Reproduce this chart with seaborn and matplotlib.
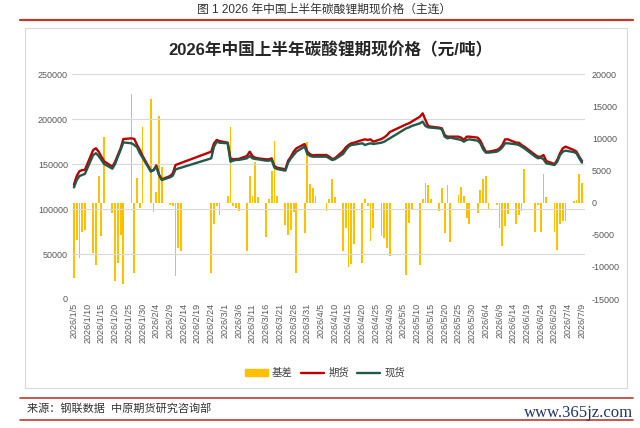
import pandas as pd
import seaborn as sns
import matplotlib.pyplot as plt
import matplotlib.dates as mdates
from matplotlib.patches import Rectangle, Patch
from matplotlib.lines import Line2D

# trading days (exchange holidays removed)
holidays = ['2026-02-16', '2026-02-17', '2026-02-18', '2026-02-19', '2026-02-20',
            '2026-02-23', '2026-04-06', '2026-05-01', '2026-05-04', '2026-05-05',
            '2026-06-19']
dates = pd.bdate_range('2026-01-05', '2026-07-09')
dates = dates[~dates.isin(pd.to_datetime(holidays))]

# 期货 (main contract), read month by month
futures_jan = [127000, 136500, 142000, 143200, 143500, 165500, 167500, 163700, 158100, 153000,
               147000, 152600, 160000, 167400, 177800, 178500, 177800, 171100, 165600, 159000]
futures_feb = [142600, 143200, 148500, 138000, 133000, 136600, 139600, 148900, 150000, 151200,
               163700, 173000, 176700, 175500]
futures_mar = [173700, 156300, 155200, 155600, 155600, 158900, 163700, 158900, 157000, 156300,
               155200, 155200, 156300, 147800, 145900, 144100, 153700, 158100, 163700, 167400,
               172200, 163700]
futures_apr = [160800, 159600, 160000, 160000, 158100, 155600, 156300, 164400, 168500, 171100,
               173000, 173700, 176700, 177400, 176700, 177400, 174800, 177800, 179600, 182000,
               185500]
futures_may = [194100, 195200, 197100, 202600, 206300, 198900, 192200, 191500, 190400, 189600,
               182200, 180400, 180400, 180400, 179300, 176700, 180400, 180400]
futures_jun = [179300, 175900, 169300, 163700, 163700, 165600, 167400, 171100, 177400, 177400,
               173700, 173700, 171100, 169300, 160000, 158100, 158100, 160000, 153300, 150000,
               154500]
futures_jul = [161900, 167400, 169300, 165600, 163700, 158100, 153300]

# 现货
spot_jan = [124000, 132000, 136600, 137800, 139000, 160000, 162000, 158900, 154500, 150000,
            144800, 150000, 158100, 165600, 174000, 173000, 171100, 168500, 161900, 157000]
spot_feb = [141500, 143200, 147000, 137800, 132200, 135200, 137000, 144000, 145000, 145900,
            156300, 169300, 174800, 173700]
spot_mar = [173000, 152600, 153700, 154500, 154500, 156300, 158900, 156300, 155600, 155200,
            153700, 153700, 154500, 145900, 144400, 142600, 151500, 156300, 160000, 163700,
            169300, 161100]
spot_apr = [158900, 158100, 158100, 158100, 156300, 154500, 155200, 161100, 165600, 169300,
            171100, 171500, 173000, 171100, 172200, 173000, 172200, 173700, 174800, 176700,
            178500]
spot_may = [189600, 190700, 192200, 195200, 197100, 192200, 190700, 190400, 189600, 188500,
            180400, 178500, 179300, 177400, 176700, 174800, 176700, 177400]
spot_jun = [175900, 173000, 166300, 162600, 162600, 163700, 165600, 168500, 173000, 173000,
            171900, 171100, 169300, 167400, 158100, 156300, 157000, 155200, 150700, 148900,
            152600]
spot_jul = [160000, 163700, 164800, 163300, 161900, 156300, 151500]

# 基差 (right axis)
basis_jan = [-11700, -5800, -8600, -4600, -4300, -7800, -9700, 4100, -5200, 10200,
             -1600, -12200, -9400, -5000, -12600, 16900, -10900, 3900, -800, 11700]
basis_feb = [16100, -1500, 1600, 13500, 5500, -300, -500, -11400, -7000, -7500,
             -10900, -3400, -500, -2000]
basis_mar = [1000, 11800, -500, -800, -1300, -7500, 4100, 1000, 6300, 800,
             -5400, 500, 4900, 9600, 1000, -3500, -5000, -4200, -1500, -10900,
             -4800, 9400]
basis_apr = [2900, 2200, 1000, -1300, 500, 3600, 800, -7500, -4000, -10000,
             -9500, -6500, -9400, 500, -500, -6000, -4000, -5200, -5500, -7000,
             -8300]
basis_may = [-11300, -3200, -1000, -9700, 500, 3100, 2700, 500, -1300, 2300,
             -4700, 2800, -6200, 1200, 2500, 1000, -2400, -3400]
basis_jun = [-1600, 2000, 3600, 4100, -1100, -300, -3900, -6800, -3600, -1800,
             -3300, -2000, -1300, 5200, -4500, -300, -4500, 4400, 800, -4500,
             -7300]
basis_jul = [-3400, -2800, -2900, 300, 400, 4500, 3000]

left_ticks = [0, 50000, 100000, 150000, 200000, 250000]
right_ticks = [-15000, -10000, -5000, 0, 5000, 10000, 15000, 20000]
tick_dates = pd.date_range('2026-01-05', '2026-07-09', freq='5D')

futures = futures_jan + futures_feb + futures_mar + futures_apr + futures_may + futures_jun + futures_jul
spot = spot_jan + spot_feb + spot_mar + spot_apr + spot_may + spot_jun + spot_jul
basis = basis_jan + basis_feb + basis_mar + basis_apr + basis_may + basis_jun + basis_jul

df = pd.DataFrame({'x': mdates.date2num(dates), 'futures': futures, 'spot': spot, 'basis': basis})

sns.set_theme(style='white')
plt.rcParams['font.family'] = ['Liberation Sans', 'Noto Sans CJK SC']
plt.rcParams['axes.unicode_minus'] = False

W, H = 640, 428
fig = plt.figure(figsize=(6.4, 4.28), dpi=100)

def fx(px):
    return px / W

def fy(py):
    return 1 - py / H

ax = fig.add_axes([fx(72), fy(299), fx(585 - 72), (299 - 74) / H])
ax2 = ax.twinx()
ax.set_zorder(ax2.get_zorder() + 1)
ax.patch.set_visible(False)

bar_col = '#FFC000'
fut_col = '#C00000'
spot_col = '#1F5A4A'

sns.barplot(data=df, x='x', y='basis', native_scale=True, orient='x', width=0.65,
            color=bar_col, saturation=1, errorbar=None, linewidth=0, ax=ax2)
sns.lineplot(data=df, x='x', y='futures', color=fut_col, lw=1.7, ax=ax, legend=False)
sns.lineplot(data=df, x='x', y='spot', color=spot_col, lw=1.7, ax=ax, legend=False)

ax.set_ylim(0, 250000)
ax.set_yticks(left_ticks)
ax.set_yticklabels([str(v) for v in left_ticks])
ax2.set_ylim(-15000, 20000)
ax2.set_yticks(right_ticks)
ax2.set_yticklabels([str(v) for v in right_ticks])

tick_x = mdates.date2num(tick_dates)
ax.set_xticks(tick_x)
ax.set_xticklabels([f'{d.year}/{d.month}/{d.day}' for d in tick_dates], rotation=90)
ax.set_xlim(mdates.date2num(pd.Timestamp('2026-01-05')) - 0.7,
            mdates.date2num(pd.Timestamp('2026-07-09')) + 1.1)

ax.grid(axis='y', color='#D9D9D9', lw=0.8)
ax.grid(axis='x', visible=False)
ax2.grid(False)
for a in (ax, ax2):
    a.set_xlabel('')
    a.set_ylabel('')
    for s in a.spines.values():
        s.set_visible(False)
    a.tick_params(length=0, labelsize=6.5, colors='#595959')
ax.tick_params(axis='y', pad=3)
ax.tick_params(axis='x', pad=3)
ax2.tick_params(axis='y', pad=5)

handles = [Patch(color=bar_col), Line2D([], [], color=fut_col, lw=1.7),
           Line2D([], [], color=spot_col, lw=1.7)]
leg = fig.legend(handles, ['基差', '期货', '现货'], loc='center', bbox_to_anchor=(fx(325), fy(373)),
                 ncol=3, frameon=False, fontsize=7.5, handlelength=2.2, handleheight=0.7,
                 columnspacing=0.8, handletextpad=0.4)
for t in leg.get_texts():
    t.set_color('#404040')

# page decorations
fig.text(fx(324), fy(10), '图 1 2026 年中国上半年碳酸锂期现价格（主连）', ha='center', va='center',
         fontsize=8.5, color='#333333')
fig.add_artist(Line2D([fx(20), fx(633)], [fy(20), fy(20)], color='#C0392B', lw=1.6))
fig.add_artist(Rectangle((fx(25), fy(388)), fx(602), (388 - 28) / H, transform=fig.transFigure,
                         fill=False, ec='#D9D9D9', lw=0.8))
fig.text(fx(330), fy(50), '2026年中国上半年碳酸锂期现价格（元/吨）', ha='center', va='center',
         fontsize=12, fontweight='bold', color='#262626')
fig.add_artist(Line2D([fx(20), fx(633)], [fy(398), fy(398)], color='#C0392B', lw=1.2))
fig.add_artist(Line2D([fx(20), fx(633)], [fy(420), fy(420)], color='#C0392B', lw=1.2))
fig.text(fx(27), fy(408), '来源：钢联数据  中原期货研究咨询部', ha='left', va='center',
         fontsize=8, color='#333333')
fig.text(fx(633), fy(413), 'www.365jz.com', ha='right', va='center', fontsize=12,
         family='Liberation Serif', color='#1F3568')

fig.savefig('out.png', dpi=100)
